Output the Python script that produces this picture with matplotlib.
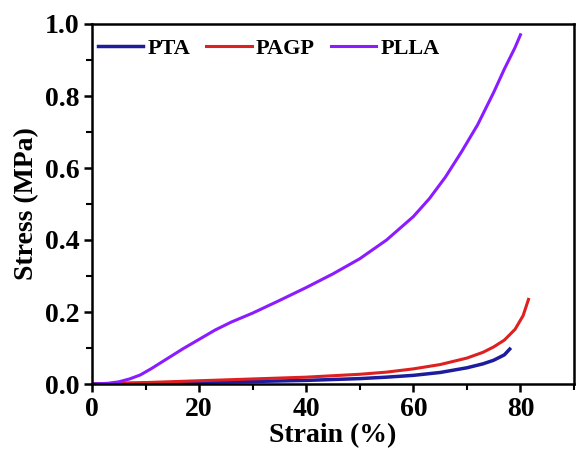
"""
Stress-strain curves of PTA, PAGP and PLLA.
"""

from matplotlib import pyplot
from matplotlib.ticker import MultipleLocator

# Strain (%) / stress (MPa)
pta_strain = [0, 5, 10, 20, 30, 40, 50, 55, 60, 65, 70, 73, 75, 77, 78]
pta_stress = [0, 0.001, 0.002, 0.005, 0.007, 0.01, 0.015, 0.019, 0.024,
              0.032, 0.045, 0.056, 0.066, 0.081, 0.097]

pagp_strain = [0, 5, 10, 20, 30, 40, 50, 55, 60, 65, 70, 73, 75, 77, 79, 80.5, 81.5]
pagp_stress = [0, 0.002, 0.004, 0.009, 0.014, 0.019, 0.027, 0.033, 0.042,
               0.054, 0.072, 0.088, 0.103, 0.122, 0.152, 0.19, 0.235]

plla_strain = [0, 3, 5, 7, 9, 11, 14, 17, 20, 23, 26, 30, 35, 40, 45, 50,
               55, 60, 63, 66, 69, 72, 75, 77, 79, 80]
plla_stress = [0, 0.002, 0.006, 0.014, 0.025, 0.042, 0.07, 0.098, 0.124,
               0.15, 0.172, 0.197, 0.232, 0.268, 0.306, 0.348, 0.4, 0.465,
               0.515, 0.575, 0.645, 0.72, 0.81, 0.875, 0.935, 0.97]

fig = pyplot.figure(figsize=(5.76, 4.49), dpi=100)
ax = fig.add_axes([92 / 576, 65 / 449, 482 / 576, 360 / 449])

font = {'family': 'Liberation Serif', 'weight': 'bold'}

ax.plot(pta_strain, pta_stress, color='#1c1c9c', lw=2.5, label='PTA')
ax.plot(pagp_strain, pagp_stress, color='#dd2020', lw=2.2, label='PAGP')
ax.plot(plla_strain, plla_stress, color='#8a1cff', lw=2.2, label='PLLA')

ax.set_xlim(0, 90)
ax.set_ylim(0, 1.0)
ax.xaxis.set_major_locator(MultipleLocator(20))
ax.xaxis.set_minor_locator(MultipleLocator(10))
ax.yaxis.set_major_locator(MultipleLocator(0.2))
ax.yaxis.set_minor_locator(MultipleLocator(0.1))
ax.tick_params(which='major', length=6, width=1.8, direction='out', pad=3)
ax.tick_params(which='minor', length=4, width=1.5, direction='out')
for spine in ax.spines.values():
    spine.set_linewidth(1.8)

for label in ax.get_xticklabels() + ax.get_yticklabels():
    label.set_fontfamily('Liberation Serif')
    label.set_fontweight('bold')
    label.set_fontsize(20)

ax.set_xlabel('Strain (%)', fontdict=font, fontsize=20, labelpad=1)
ax.set_ylabel('Stress (MPa)', fontdict=font, fontsize=20, labelpad=4)

ax.legend(loc='upper left', bbox_to_anchor=(0.0, 0.975), ncol=3,
          frameon=False, handlelength=2.05, columnspacing=0.7,
          handletextpad=0.2, borderaxespad=0, borderpad=0.25,
          prop={'family': 'Liberation Serif', 'weight': 'bold', 'size': 16})

fig.savefig('out.png', dpi=100)
